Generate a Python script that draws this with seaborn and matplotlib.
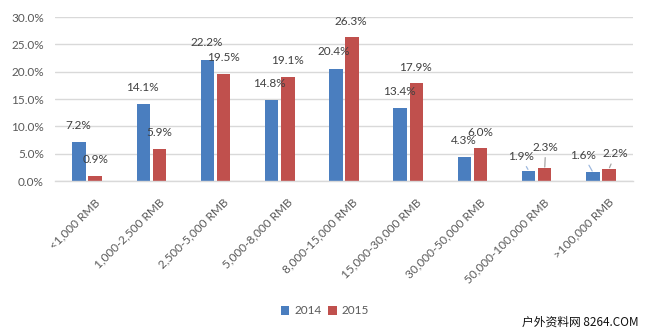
import matplotlib
matplotlib.use("Agg")
import matplotlib.pyplot as plt
import matplotlib.transforms as mtransforms
from matplotlib.patches import Patch
import seaborn as sns
import pandas as pd

categories = ["<1,000 RMB", "1,000-2,500 RMB", "2,500-5,000 RMB", "5,000-8,000 RMB",
              "8,000-15,000 RMB", "15,000-30,000 RMB", "30,000-50,000 RMB",
              "50,000-100,000 RMB", ">100,000 RMB"]
years = ["2014", "2015"]
values_2014 = [7.2, 14.1, 22.2, 14.8, 20.4, 13.4, 4.3, 1.9, 1.6]
values_2015 = [0.9, 5.9, 19.5, 19.1, 26.3, 17.9, 6.0, 2.3, 2.2]
y_ticks = [0, 5, 10, 15, 20, 25, 30]

# label offsets in pixels (dx, dy) relative to the bar top
offsets_2014 = [(-1, 16), (-1, 16), (-1, 17.5), (-2, 17), (-2, 17.5), (-1, 16), (-1, 16.5), (-8, 14), (-9.5, 17)]
offsets_2015 = [(0, 17), (0, 16.5), (0, 16.5), (0, 16.5), (-1, 16), (-1, 16), (0, 16), (1, 21), (6.5, 15)]
leader = [False] * 7 + [True, True]

sns.set_theme(style="white")
plt.rcParams["font.family"] = ["Lato", "DejaVu Sans"]

df = pd.DataFrame({
    "category": categories * 2,
    "year": [years[0]] * len(categories) + [years[1]] * len(categories),
    "value": values_2014 + values_2015,
})

colors = {"2014": "#4A7EBF", "2015": "#C0504D"}

fig = plt.figure(figsize=(6.5, 3.34), dpi=100)
ax = fig.add_axes([55 / 650, 1 - 181 / 334, 578 / 650, 164 / 334])

sns.barplot(data=df, x="category", y="value", hue="year", order=categories,
            hue_order=years, palette=colors, saturation=1, width=0.5, gap=0.16,
            linewidth=0, ax=ax, legend=False)

ax.set_ylim(0, 30)
ax.set_yticks(y_ticks)
ax.set_yticklabels([f"{t:.1f}%" for t in y_ticks], fontsize=8.5, color="#595959")
ax.yaxis.grid(True, color="#D9D9D9", linewidth=1)
ax.set_axisbelow(True)
for s in ["left", "right", "top"]:
    ax.spines[s].set_visible(False)
ax.spines["bottom"].set_color("#D9D9D9")
ax.spines["bottom"].set_linewidth(1)
ax.tick_params(axis="y", length=0, pad=8)
ax.tick_params(axis="x", length=0, pad=14)
ax.set_xlabel("")
ax.set_ylabel("")

ax.set_xticks(range(len(categories)))
ax.set_xticklabels(categories, rotation=45, ha="right", va="center",
                   rotation_mode="anchor", fontsize=8.5, color="#595959")
shift = mtransforms.ScaledTranslation(11 / 100, 0, fig.dpi_scale_trans)
for lbl in ax.get_xticklabels():
    lbl.set_transform(lbl.get_transform() + shift)

line_colors = ["#9DB8DE", "#A6A6A6"]
for ci, (cont, offs) in enumerate(zip(ax.containers, [offsets_2014, offsets_2015])):
    for i, bar in enumerate(cont):
        h = bar.get_height()
        x = bar.get_x() + bar.get_width() / 2
        dx, dy = offs[i]
        kw = {}
        if leader[i]:
            kw["arrowprops"] = dict(arrowstyle="-", color=line_colors[ci], lw=0.9,
                                    shrinkA=1, shrinkB=1)
        ax.annotate(f"{h:.1f}%", xy=(x, h), xytext=(dx, dy), textcoords="offset pixels",
                    ha="center", va="center", fontsize=8.5, color="#404040", **kw)

handles = [Patch(facecolor=colors[y], edgecolor="none", label=y) for y in years]
fig.legend(handles=handles, loc="center", bbox_to_anchor=(0.5, 1 - 311 / 334),
           ncol=2, frameon=False, fontsize=8.5, handlelength=0.7, handleheight=0.7,
           handletextpad=0.4, columnspacing=0.6, labelcolor="#595959")

fig.text(639 / 650, 1 - 322 / 334, "户外资料网 8264.COM", ha="right", va="center",
         fontsize=8.5, color="#111111", family=["Noto Sans CJK SC", "DejaVu Sans"])

fig.savefig("out.png", dpi=100)
